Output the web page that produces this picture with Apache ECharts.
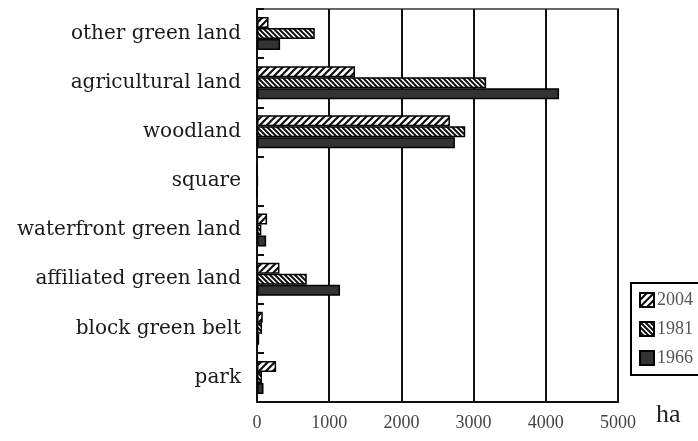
<!DOCTYPE html>
<html>
<head>
<meta charset="utf-8">
<script src="https://cdn.jsdelivr.net/npm/echarts@6/dist/echarts.min.js"></script>
<style>html,body{margin:0;padding:0;background:#fff;}#c{width:698px;height:441px;}</style>
</head>
<body>
<div id="c"></div>
<script>
var categories = ['park','block green belt','affiliated green land','waterfront green land','square','woodland','agricultural land','other green land'];
var v2004 = [265, 80, 311, 140, 5, 2672, 1358, 160];
var v1981 = [70, 70, 689, 60, 10, 2884, 3174, 800];
var v1966 = [90, 30, 1150, 127, 5, 2741, 4184, 320];
var xTicks = [0, 1000, 2000, 3000, 4000, 5000];

function hatch(size, lw, dir) {
  var c = document.createElement('canvas');
  c.width = size; c.height = size;
  var g = c.getContext('2d');
  g.fillStyle = '#fff'; g.fillRect(0, 0, size, size);
  g.strokeStyle = '#111'; g.lineWidth = lw; g.lineCap = 'square';
  g.beginPath();
  if (dir > 0) {
    g.moveTo(0, size); g.lineTo(size, 0);
    g.moveTo(-1, 1); g.lineTo(1, -1);
    g.moveTo(size - 1, size + 1); g.lineTo(size + 1, size - 1);
  } else {
    g.moveTo(0, 0); g.lineTo(size, size);
    g.moveTo(-1, size - 1); g.lineTo(1, size + 1);
    g.moveTo(size - 1, -1); g.lineTo(size + 1, 1);
  }
  g.stroke();
  return { image: c, repeat: 'repeat' };
}
var p2004 = hatch(7, 2.2, 1);
var p1981 = hatch(5, 2, -1);

var chart = echarts.init(document.getElementById('c'));
var border = { borderColor: '#000', borderWidth: 1.5 };
chart.setOption({
  animation: false,
  backgroundColor: '#fff',
  grid: { left: 257, right: 80, top: 9, bottom: 39, show: true, borderColor: '#666', borderWidth: 2, containLabel: false },
  legend: {
    orient: 'vertical', left: 631, top: 283,
    data: ['2004', '1981', '1966'],
    itemWidth: 14, itemHeight: 14, itemGap: 11,
    padding: [8, 8, 8, 8],
    borderColor: '#000', borderWidth: 2,
    icon: 'rect',
    textStyle: { fontFamily: 'Liberation Serif', fontSize: 18, color: '#555', padding: [0, 0, 0, -2] }
  },
  xAxis: {
    type: 'value', min: 0, max: 5000, interval: 1000,
    name: 'ha', nameLocation: 'end', nameGap: 38,
    nameTextStyle: { fontFamily: 'Liberation Serif', fontSize: 26, color: '#222', verticalAlign: 'top', align: 'left' },
    axisLine: { show: true, lineStyle: { color: '#111', width: 2 } },
    axisTick: { show: false },
    axisLabel: { fontFamily: 'Liberation Serif', fontSize: 18, color: '#444', margin: 12,
      formatter: function (v) { return xTicks.indexOf(v) >= 0 ? String(v) : ''; } },
    splitLine: { show: true, lineStyle: { color: '#111', width: 2 } }
  },
  yAxis: {
    type: 'category', data: categories,
    axisLine: { show: true, lineStyle: { color: '#111', width: 2 } },
    axisTick: { show: true, inside: true, length: 7, lineStyle: { color: '#111', width: 2 } },
    axisLabel: { fontFamily: 'DejaVu Serif', fontSize: 20, color: '#1a1a1a', margin: 16 },
    splitLine: { show: false }
  },
  series: [
    { name: '2004', type: 'bar', data: v2004, barWidth: 11, barGap: '0%',
      itemStyle: Object.assign({ color: p2004 }, border) },
    { name: '1981', type: 'bar', data: v1981, barWidth: 11, barGap: '0%',
      itemStyle: Object.assign({ color: p1981 }, border) },
    { name: '1966', type: 'bar', data: v1966, barWidth: 11, barGap: '0%',
      itemStyle: Object.assign({ color: '#333' }, border) }
  ]
});
</script>
</body>
</html>
